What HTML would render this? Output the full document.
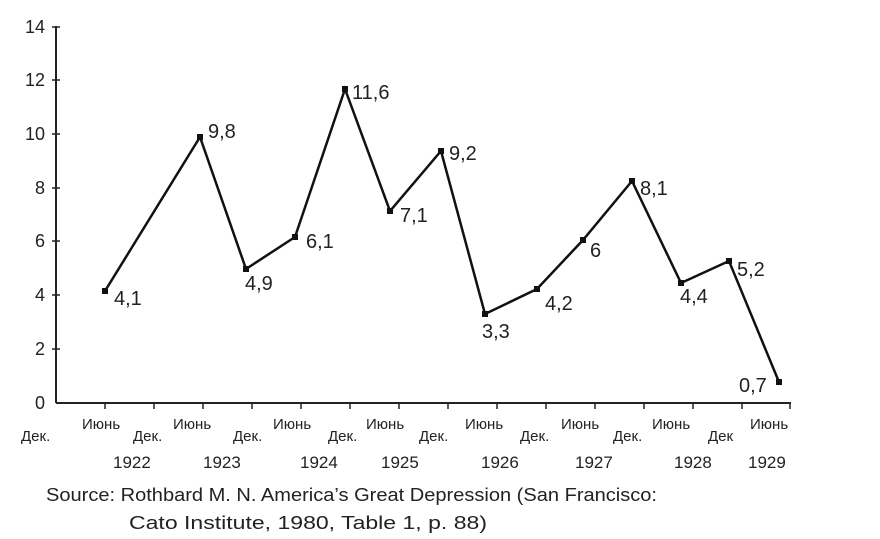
<!DOCTYPE html>
<html><head><meta charset="utf-8"><style>
body{margin:0;background:#fff;width:880px;height:534px;overflow:hidden}
text{font-family:"Liberation Sans Narrow","Liberation Sans",sans-serif;fill:#222}
</style></head><body>
<svg width="880" height="534" viewBox="0 0 880 534" xmlns="http://www.w3.org/2000/svg">
<g stroke="#222" stroke-width="2" fill="none">
<line x1="56" y1="26" x2="56" y2="403"/>
<line x1="56" y1="403" x2="791" y2="403"/>
</g>
<g stroke="#222" stroke-width="1.5">
<line x1="52" y1="27" x2="60" y2="27"/><line x1="52" y1="80" x2="60" y2="80"/>
<line x1="52" y1="134" x2="60" y2="134"/><line x1="52" y1="188" x2="60" y2="188"/>
<line x1="52" y1="241" x2="60" y2="241"/><line x1="52" y1="295" x2="60" y2="295"/>
<line x1="52" y1="349" x2="60" y2="349"/>
<line x1="105" y1="403" x2="105" y2="409"/><line x1="154" y1="403" x2="154" y2="409"/>
<line x1="203" y1="403" x2="203" y2="409"/><line x1="252" y1="403" x2="252" y2="409"/>
<line x1="301" y1="403" x2="301" y2="409"/><line x1="350" y1="403" x2="350" y2="409"/>
<line x1="399" y1="403" x2="399" y2="409"/><line x1="448" y1="403" x2="448" y2="409"/>
<line x1="497" y1="403" x2="497" y2="409"/><line x1="546" y1="403" x2="546" y2="409"/>
<line x1="595" y1="403" x2="595" y2="409"/><line x1="644" y1="403" x2="644" y2="409"/>
<line x1="693" y1="403" x2="693" y2="409"/><line x1="742" y1="403" x2="742" y2="409"/>
<line x1="790" y1="403" x2="790" y2="409"/>
</g>
<g font-size="18" text-anchor="end">
<text x="45" y="33">14</text><text x="45" y="86">12</text><text x="45" y="140">10</text>
<text x="45" y="194">8</text><text x="45" y="247">6</text><text x="45" y="301">4</text>
<text x="45" y="355">2</text><text x="45" y="409">0</text>
</g>
<polyline fill="none" stroke="#111" stroke-width="2.5" points="105,291 200,137 246,269 295,237 345,89 390,211 441,151 485,314 537,289 583,240 632,181 681,283 729,261 779,382"/>
<g fill="#111">
<rect x="102" y="288" width="6" height="6"/><rect x="197" y="134" width="6" height="6"/>
<rect x="243" y="266" width="6" height="6"/><rect x="292" y="234" width="6" height="6"/>
<rect x="342" y="86" width="6" height="6"/><rect x="387" y="208" width="6" height="6"/>
<rect x="438" y="148" width="6" height="6"/><rect x="482" y="311" width="6" height="6"/>
<rect x="534" y="286" width="6" height="6"/><rect x="580" y="237" width="6" height="6"/>
<rect x="629" y="178" width="6" height="6"/><rect x="678" y="280" width="6" height="6"/>
<rect x="726" y="258" width="6" height="6"/><rect x="776" y="379" width="6" height="6"/>
</g>
<g font-size="20">
<text x="114" y="305">4,1</text><text x="208" y="138">9,8</text>
<text x="245" y="290">4,9</text><text x="306" y="248">6,1</text>
<text x="352" y="99">11,6</text><text x="400" y="222">7,1</text>
<text x="449" y="160">9,2</text><text x="482" y="338">3,3</text>
<text x="545" y="310">4,2</text><text x="590" y="257">6</text>
<text x="640" y="195">8,1</text><text x="680" y="303">4,4</text>
<text x="737" y="276">5,2</text><text x="739" y="392">0,7</text>
</g>
<g font-size="15">
<text x="21" y="441">Дек.</text><text x="82" y="429">Июнь</text>
<text x="133" y="441">Дек.</text><text x="173" y="429">Июнь</text>
<text x="233" y="441">Дек.</text><text x="273" y="429">Июнь</text>
<text x="328" y="441">Дек.</text><text x="366" y="429">Июнь</text>
<text x="419" y="441">Дек.</text><text x="465" y="429">Июнь</text>
<text x="520" y="441">Дек.</text><text x="561" y="429">Июнь</text>
<text x="613" y="441">Дек.</text><text x="652" y="429">Июнь</text>
<text x="708" y="441">Дек</text><text x="750" y="429">Июнь</text>
</g>
<g font-size="17">
<text x="113" y="468">1922</text><text x="203" y="468">1923</text>
<text x="300" y="468">1924</text><text x="381" y="468">1925</text>
<text x="481" y="468">1926</text><text x="575" y="468">1927</text>
<text x="674" y="468">1928</text><text x="748" y="468">1929</text>
</g>
<g font-size="18.5">
<text x="46" y="501" textLength="611" lengthAdjust="spacingAndGlyphs">Source: Rothbard M. N. America’s Great Depression (San Francisco:</text>
<text x="129" y="529" textLength="358" lengthAdjust="spacingAndGlyphs">Cato Institute, 1980, Table 1,  p. 88)</text>
</g>
</svg>
</body></html>
